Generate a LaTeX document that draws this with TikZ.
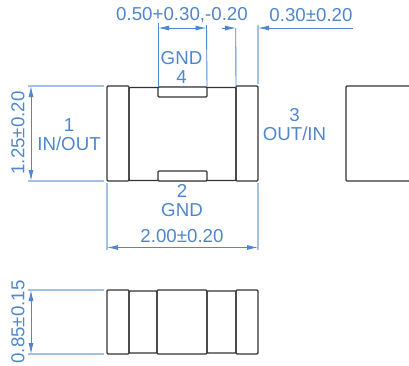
\documentclass[tikz,border=0pt]{standalone}
\usepackage{fontspec}
\setmainfont{Liberation Sans}
\usetikzlibrary{arrows.meta,positioning,calc}
\definecolor{dimblue}{HTML}{4F86CC}
\definecolor{extblue}{HTML}{A3C0E6}
\definecolor{partline}{HTML}{333333}
\tikzset{x=1pt,y=-1pt,
        partbox/.style={ % Sets the properties for each part of the chip
            draw=partline,
            line width=1.2pt,
            rounded corners=1pt,
            inner sep=0pt,
            outer sep=0pt},
        dimtext/.style={ % Blue labels
            text=dimblue,
            inner sep=0pt,
            align=center,
            font=\fontsize{18.7}{19}\selectfont},
        extline/.style={draw=extblue,line width=1.2pt},
        dimline/.style={draw=dimblue,line width=0.9pt},
        dimarrow/.style={
            draw=dimblue,
            line width=0.9pt,
            >={Latex[length=11pt,width=5pt]}}
        }
\begin{document}
\begin{tikzpicture}
    \useasboundingbox (0,0) rectangle (409,365);

    % top view
    \node[partbox,minimum width=107pt,minimum height=93pt] (body) at (182.5,134) {};
    \node[partbox,minimum width=22pt,minimum height=95pt] (termL) at (118,133.5) {};
    \node[partbox,minimum width=22pt,minimum height=95pt] (termR) at (247,133.5) {};
    \node[partbox,fill=white,minimum width=49pt,minimum height=10pt] (padT) at (182.5,92) {};
    \node[partbox,fill=white,minimum width=49pt,minimum height=10pt] (padB) at (182.5,176) {};

    % part on the right, cut by the edge
    \coordinate (nextTR) at (411,86);
    \coordinate (nextBR) at (411,181);
    \coordinate (nextTL) at (346,86);
    \coordinate (nextBL) at (346,181);
    \draw[partline,line width=1.2pt,rounded corners=1pt] (nextTR) -- (nextTL) -- (nextBL) -- (nextBR);

    % side view
    \node[partbox,minimum width=22pt,minimum height=64pt] (sideA) at (118,322) {};
    \node[partbox,minimum width=28pt,minimum height=62pt] (sideB) at (143,322) {};
    \node[partbox,minimum width=50pt,minimum height=64pt] (sideC) at (182,322) {};
    \node[partbox,minimum width=29pt,minimum height=62pt] (sideD) at (221.5,322) {};
    \node[partbox,minimum width=22pt,minimum height=64pt] (sideE) at (247,322) {};

    % labels
    \node[dimtext] (topdim) at (182,15.5) {0.50+0.30,-0.20};
    \node[dimtext] (rightdim) at (311,15.5) {0.30±0.20};
    \node[dimtext] (pin4) at (181.5,67.5) {GND\\4};
    \node[dimtext] (pin1) at (69,134.5) {1\\IN/OUT};
    \node[dimtext] (pin3) at (294.5,125) {3\\OUT/IN};
    \node[dimtext] (pin2) at (182,200.5) {2\\GND};
    \node[dimtext] (widthdim) at (182,236) {2.00±0.20};
    \node[dimtext,rotate=90] (heightdim) at (18,133) {1.25±0.20};
    \node[dimtext,rotate=90] (thickdim) at (18,322) {0.85±0.15};

    % extension lines
    \coordinate (e1) at (158,23);
    \coordinate (e2) at (206.5,25);
    \coordinate (e3) at (235.7,28);
    \coordinate (e4) at (258,25);
    \draw[dimline] (e1) -- (padT.north west);
    \draw[dimline] (e2) -- (padT.north east);
    \draw[dimline] (e3) -- (termR.north west);
    \draw[extline] (e4) -- ($(termR.north east)+(0,-2)$);
    \coordinate (wL) at ($(termL.south west)+(0,69)$);
    \coordinate (wR) at ($(termR.south east)+(0,69)$);
    \draw[extline] ($(termL.south west)+(0,2)$) -- (wL);
    \draw[extline] ($(termR.south east)+(0,2)$) -- (wR);
    \coordinate (hT) at (28,86);
    \coordinate (hB) at (28,181);
    \draw[extline] (hT) -- ($(termL.north west)+(-3,0)$);
    \draw[extline] (hB) -- ($(termL.south west)+(-3,0)$);
    \coordinate (tT) at (28,290);
    \coordinate (tB) at (28,354);
    \draw[extline] (tT) -- ($(sideA.north west)+(-3,0)$);
    \draw[extline] (tB) -- ($(sideA.south west)+(-3,0)$);

    % dimension arrows
    \coordinate (a1) at (158,28);
    \coordinate (a2) at (206.5,28);
    \coordinate (a3) at (222,28);
    \coordinate (a4) at (236,28);
    \coordinate (a5) at (258,28);
    \coordinate (a6) at (353,28);
    \draw[dimarrow,<->] (a1) -- (a2);
    \draw[dimarrow,->] (a3) -- (a4);
    \draw[dimarrow,->] (a6) -- (a5);
    \draw[dimarrow,<->] ($(wL)+(0,-2.5)$) -- ($(wR)+(0,-2.5)$);
    \draw[dimarrow,<->] ($(hT)+(3,0)$) -- ($(hB)+(3,0)$);
    \draw[dimarrow,<->] ($(tT)+(3,0)$) -- ($(tB)+(3,0)$);
\end{tikzpicture}
\end{document}
